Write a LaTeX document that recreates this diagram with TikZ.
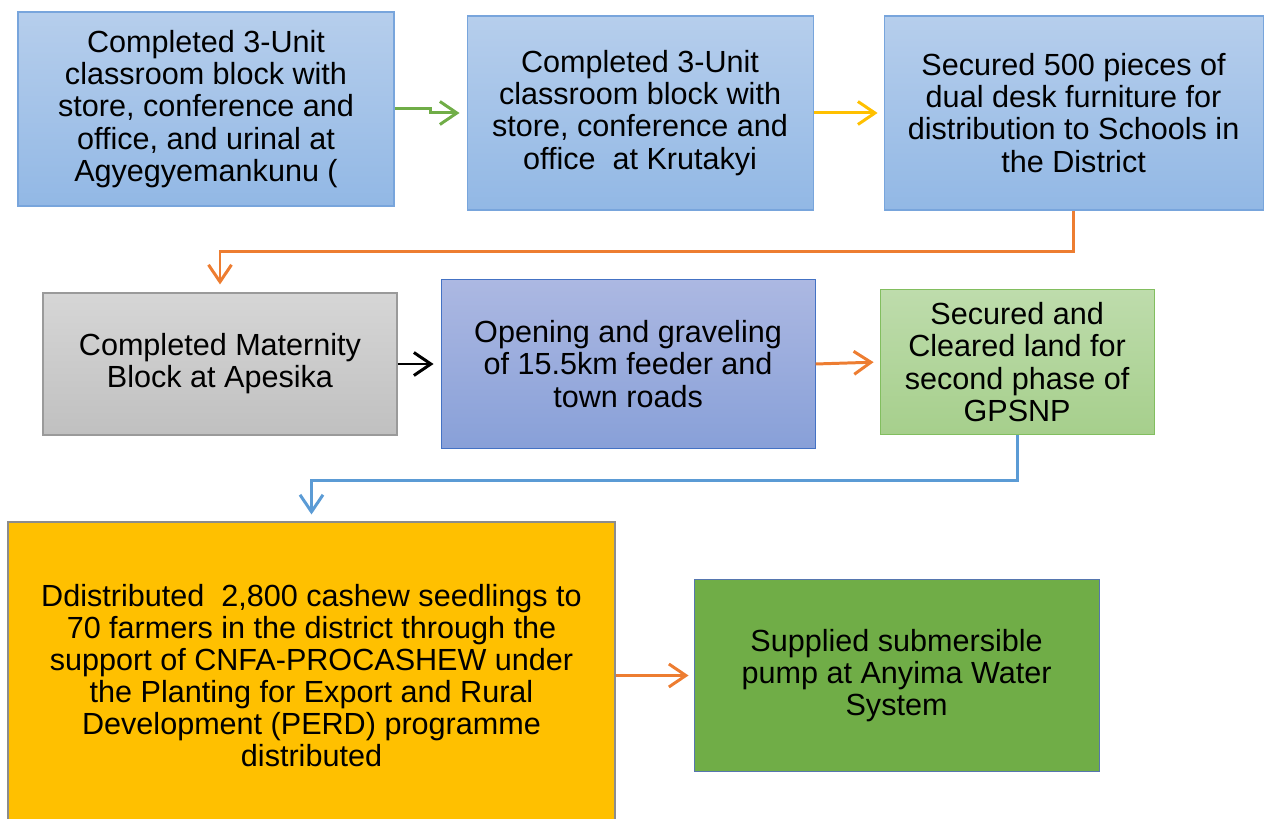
\documentclass[tikz,border=0pt]{standalone}
\usepackage{fontspec}
\setmainfont{Liberation Sans}
\usetikzlibrary{arrows.meta,positioning}
\definecolor{planblueT}  {RGB}{182,206,236}
\definecolor{planblueB}  {RGB}{146,184,229}
\definecolor{planblueD}  {RGB}{120,165,220}
\definecolor{plangreyT}  {RGB}{214,214,214}
\definecolor{plangreyB}  {RGB}{192,192,192}
\definecolor{planpurT}   {RGB}{172,184,226}
\definecolor{planpurB}   {RGB}{136,160,216}
\definecolor{planpurD}   {RGB}{68,114,196}
\definecolor{planleafT}  {RGB}{190,220,172}
\definecolor{planleafB}  {RGB}{166,207,140}
\definecolor{planleafD}  {RGB}{130,190,95}
\definecolor{plangold}   {RGB}{255,192,0}
\definecolor{planmoss}   {RGB}{112,173,71}
\definecolor{planorange} {RGB}{237,125,49}
\definecolor{planarrblue}{RGB}{91,155,213}

\begin{document}
\begin{tikzpicture}[
  >={Straight Barb[length=0.34cm,width=0.46cm]},
  base/.style   ={line width=0.6pt,align=center,inner sep=2pt,
                  font=\fontsize{17.4}{18.3}\selectfont},
  topbox/.style ={base,draw=planblueD,top color=planblueT,bottom color=planblueB},
  greybox/.style={base,draw=plangreyB!80!black,top color=plangreyT,bottom color=plangreyB},
  roadbox/.style={base,draw=planpurD,top color=planpurT,bottom color=planpurB},
  landbox/.style={base,draw=planleafD,top color=planleafT,bottom color=planleafB},
  seedbox/.style={base,draw=black!45,fill=plangold},
  pumpbox/.style={base,draw=planpurD!70!gray,fill=planmoss},
  arr/.style    ={->,line width=1.7pt},
]
\useasboundingbox (0,0) rectangle (25.28,-16.38);

%% -- Row 1: classrooms and furniture
\node[topbox,minimum width=7.52cm,minimum height=3.88cm] (cls1) at (4.12,-2.18)
  {Completed 3-Unit\\classroom block with\\store, conference and\\office, and urinal at\\Agyegyemankunu (};
\node[topbox,minimum width=6.92cm,minimum height=3.88cm] (cls2)
  [right=1.44cm of cls1,yshift=-0.08cm]
  {Completed 3-Unit\\classroom block with\\store, conference and\\office\ \ at Krutakyi};
\node[topbox,minimum width=7.58cm,minimum height=3.88cm] (desk)
  [right=1.40cm of cls2]
  {Secured 500 pieces of\\dual desk furniture for\\distribution to Schools in\\the District};

%% -- Row 2: maternity, roads, land
\node[greybox,minimum width=7.08cm,minimum height=2.84cm] (mat) at (4.40,-7.28)
  {Completed Maternity\\Block at Apesika};
\node[roadbox,minimum width=7.48cm,minimum height=3.38cm] (road)
  [right=0.86cm of mat]
  {Opening and graveling\\of 15.5km feeder and\\town roads};
\node[landbox,minimum width=5.48cm,minimum height=2.90cm] (land)
  [right=1.28cm of road,yshift=0.04cm]
  {Secured and\\Cleared land for\\second phase of\\GPSNP};

%% -- Row 3: seedlings and pump
\node[seedbox,minimum width=12.14cm,minimum height=6.14cm] (seed) at (6.23,-13.51)
  {Ddistributed\ \ 2,800 cashew seedlings to\\70 farmers in the district through the\\support of CNFA-PROCASHEW under\\the Planting for Export and Rural\\Development (PERD) programme\\distributed};
\node[pumpbox,minimum width=8.10cm,minimum height=3.84cm] (pump)
  [right=1.56cm of seed]
  {Supplied submersible\\pump at Anyima Water\\System};

%% -- Connectors
\draw[arr,planmoss,shorten >=0.14cm] (cls1.east) -- ++(0.72,0) |- (cls2.west);
\draw[arr,plangold,shorten >=0.12cm] (cls2.east) -- (desk.west);
\draw[arr,planorange,shorten >=0.16cm] (desk.south) -- ++(0,-0.82) -| (mat.north);
\draw[arr,black,shorten >=0.14cm] (mat.east) -- (road.west);
\draw[arr,planorange,shorten >=0.12cm] (road.east) -- (land.west);
\draw[arr,planarrblue,shorten >=0.14cm] (land.south) -- ++(0,-0.90) -| (seed.north);
\draw[arr,planorange,shorten >=0.10cm] (seed.east) -- (pump.west);

\end{tikzpicture}
\end{document}
